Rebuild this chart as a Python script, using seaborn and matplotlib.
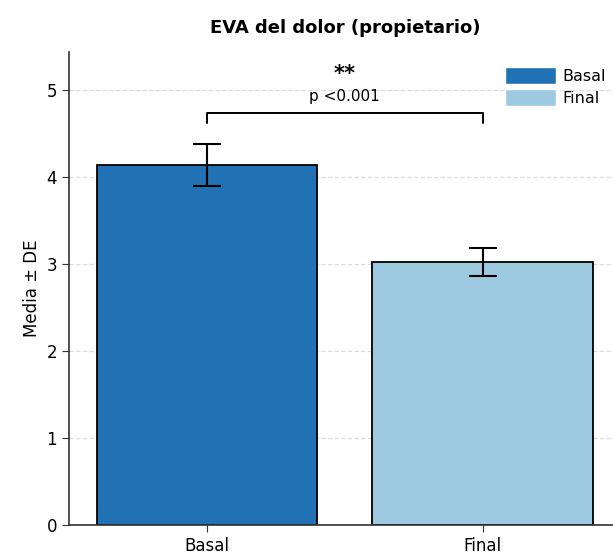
import pandas as pd
import matplotlib.pyplot as plt
import seaborn as sns
from matplotlib.patches import Patch

# Data
groups = ['Basal', 'Final']
means = [4.14, 3.03]
sds = [0.24, 0.16]
colors = ['#2171b5', '#9ecae1']
p_label = 'p <0.001'
stars = '**'

df = pd.DataFrame({'grupo': groups, 'media': means, 'de': sds})

sns.set_style('white')
plt.rcParams['font.family'] = ['DejaVu Sans']
plt.rcParams.update({'text.color': 'black', 'axes.labelcolor': 'black',
                     'xtick.color': 'black', 'ytick.color': 'black'})

fig = plt.figure(figsize=(6.13, 5.55), dpi=100)
ax = fig.add_axes([0.1126, 0.054, 0.90, 0.852])

sns.barplot(data=df, x='grupo', y='media', hue='grupo', palette=colors,
            saturation=1, width=0.8, edgecolor='black', linewidth=1.3,
            legend=False, ax=ax, errorbar=None)
ax.errorbar(range(len(groups)), df['media'], yerr=df['de'], fmt='none',
            ecolor='black', elinewidth=1.5, capsize=10, capthick=1.5, zorder=5)

# significance bracket
top = max(m + s for m, s in zip(means, sds))
y_br = top + 0.36
ax.plot([0, 0, 1, 1], [y_br - 0.11, y_br, y_br, y_br - 0.11],
        color='black', lw=1.4)
ax.text(0.5, y_br + 0.1, p_label, ha='center', va='bottom', fontsize=11)
ax.text(0.5, y_br + 0.33, stars, ha='center', va='bottom', fontsize=15,
        fontweight='bold')

# legend
handles = [Patch(facecolor=c, label=g) for g, c in zip(groups, colors)]
ax.legend(handles=handles, loc='upper right', frameon=False, fontsize=11.5,
          handlelength=3.2, handleheight=1.3, handletextpad=0.4,
          labelspacing=0.3, bbox_to_anchor=(1.0, 1.0))

ax.set_xlim(-0.5, 1.5)
ax.set_ylim(0, 5.44)
ax.set_yticks(range(6))
ax.yaxis.grid(True, linestyle='--', color='#dddddd', linewidth=0.9)
ax.set_axisbelow(True)
ax.set_xlabel('')
ax.set_ylabel('Media ± DE', fontsize=12)
ax.tick_params(axis='both', labelsize=12, length=5, color='#333333',
               bottom=True, left=True)
ax.set_title('EVA del dolor (propietario)', fontsize=13, fontweight='bold',
             pad=14)
sns.despine(ax=ax)
for s in ['left', 'bottom']:
    ax.spines[s].set_color('#333333')
    ax.spines[s].set_linewidth(1.2)

fig.savefig('out.png', dpi=100)
